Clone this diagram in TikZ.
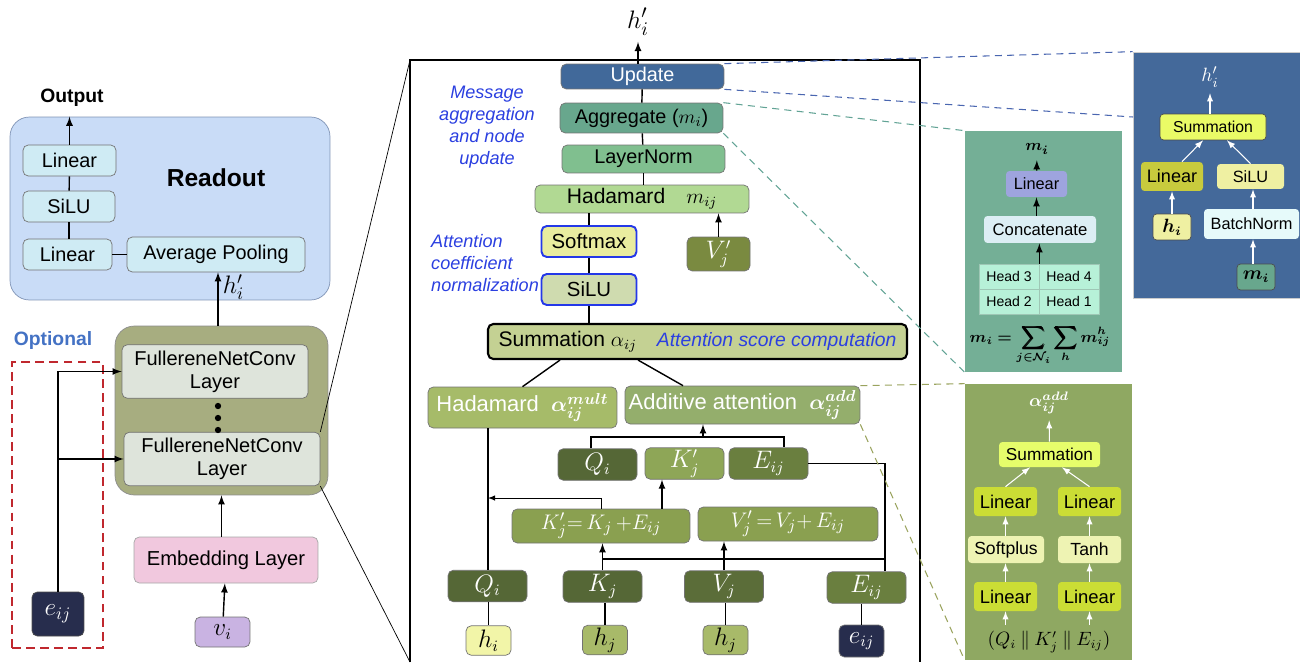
\documentclass[tikz,border=0pt]{standalone}
\usepackage{amsmath,bm}
\usepackage{fontspec}
\setmainfont{Liberation Sans}

\definecolor{readBg}{HTML}{C9DCF7}
\definecolor{readLine}{HTML}{7F93B5}
\definecolor{readBox}{HTML}{CFEBF4}
\definecolor{convBg}{HTML}{A7AD80}
\definecolor{convLay}{HTML}{DEE4DB}
\definecolor{embedC}{HTML}{F1C8DE}
\definecolor{viC}{HTML}{C9B3E2}
\definecolor{eijC}{HTML}{272D4D}
\definecolor{updC}{HTML}{41699A}
\definecolor{aggC}{HTML}{68A78D}
\definecolor{normC}{HTML}{80BF8F}
\definecolor{hadC}{HTML}{B1D993}
\definecolor{softC}{HTML}{E9EC9F}
\definecolor{siluC}{HTML}{CFDBAF}
\definecolor{vjpC}{HTML}{7A8A40}
\definecolor{sumC}{HTML}{C4D193}
\definecolor{multC}{HTML}{A6BB69}
\definecolor{addC}{HTML}{94AE6C}
\definecolor{qC}{HTML}{556736}
\definecolor{kpC}{HTML}{8EA657}
\definecolor{eC}{HTML}{6A7F3F}
\definecolor{eqC}{HTML}{8AA050}
\definecolor{hiC}{HTML}{F2F5A8}
\definecolor{hjC}{HTML}{A8BA69}
\definecolor{aggPan}{HTML}{74AF96}
\definecolor{aggLin}{HTML}{9EA4DE}
\definecolor{catC}{HTML}{DCEEF4}
\definecolor{headC}{HTML}{B7F1D8}
\definecolor{updPan}{HTML}{44699A}
\definecolor{usumC}{HTML}{EAFB66}
\definecolor{ulinC}{HTML}{C8CB3D}
\definecolor{usiluC}{HTML}{EFF0A2}
\definecolor{bnC}{HTML}{E6FAFA}
\definecolor{addPan}{HTML}{8FA862}
\definecolor{asumC}{HTML}{E6FD6B}
\definecolor{alinC}{HTML}{CBDD35}
\definecolor{asoftC}{HTML}{EEF3B3}
\definecolor{noteBlue}{HTML}{2B3FE0}
\definecolor{normBlue}{HTML}{2438E8}
\definecolor{optBlue}{HTML}{4472C4}
\definecolor{optRed}{HTML}{C0282E}
\definecolor{updDash}{HTML}{4A66B0}
\definecolor{aggDash}{HTML}{62A395}
\definecolor{addDash}{HTML}{9AA35E}

\begin{document}
\begin{tikzpicture}[x=0.02cm, y=-0.02cm,
        box/.style={rectangle, rounded corners=3pt, draw=black!55, inner sep=0pt, align=center},
        readbox/.style={box, fill=readBox, font=\fontsize{11.3}{13}\selectfont, minimum height=0.62cm},
        layerbox/.style={box, fill=convLay, font=\fontsize{11.4}{13}\selectfont, minimum height=1.07cm},
        midbox/.style={box, font=\fontsize{11.3}{13}\selectfont},
        varbox/.style={box, text=white, font=\fontsize{13.5}{15}\selectfont, minimum width=1.58cm, minimum height=0.63cm},
        inbox/.style={box, font=\fontsize{13.5}{15}\selectfont, minimum width=0.9cm, minimum height=0.59cm},
        normbox/.style={midbox, draw=normBlue, line width=1.1pt, font=\fontsize{11.6}{13}\selectfont, minimum width=1.9cm, minimum height=0.62cm},
        note/.style={text=noteBlue, font=\fontsize{10.3}{12.6}\selectfont\itshape, align=center},
        panelbox/.style={rectangle, rounded corners=2pt, inner sep=0pt, font=\fontsize{9.3}{11}\selectfont},
        panel/.style={rectangle, inner sep=0pt},
        warrow/.style={-latex, white, semithick},
        zoomdash/.style={dashed, dash pattern=on 4pt off 3pt, semithick},
    ]
        \useasboundingbox (0,0) rectangle (1300,662);

        %Readout
        \node[panel, fill=readBg, draw=readLine, rounded corners=11pt, minimum width=6.4cm, minimum height=3.66cm] (readout) at (170,208.5) {};
        \node[font=\fontsize{14}{16}\selectfont\bfseries] (readTitle) at (216,178) {Readout};
        \node[font=\fontsize{11}{13}\selectfont\bfseries] (output) at (72,98) {Output};
        \node[readbox, minimum width=1.86cm] (linTop) at (69.5,160.5) {Linear};
        \node[readbox, minimum width=1.84cm] (siluRead) at (69,206.5) {SiLU};
        \node[readbox, minimum width=1.78cm] (linBot) at (67.5,254.5) {Linear};
        \node[readbox, minimum width=3.56cm, minimum height=0.7cm] (avgPool) at (216,254.5) {Average Pooling};

        %Convolution stack
        \node[panel, fill=convBg, draw=black!45, rounded corners=11pt, minimum width=4.26cm, minimum height=3.38cm] (convBox) at (221.5,410.5) {};
        \node[layerbox, minimum width=3.72cm] (conv1) at (215,371.5) {FullereneNetConv\\Layer};
        \node[layerbox, minimum width=3.92cm] (conv2) at (222,459) {FullereneNetConv\\Layer};
        \foreach \y in {406,418,430} \fill (218,\y) circle (1.8pt);
        \node[box, fill=embedC, draw=black!35, font=\fontsize{11.5}{13}\selectfont, minimum width=3.68cm, minimum height=0.92cm] (embed) at (226,560) {Embedding Layer};
        \node[box, fill=viC, font=\fontsize{13.5}{15}\selectfont, minimum width=1.1cm, minimum height=0.6cm] (vi) at (222.5,632) {$v_i$};

        %Optional edge input
        \node[text=optBlue, font=\fontsize{11}{13}\selectfont\bfseries] (optional) at (53,341) {Optional};
        \node[panel, draw=optRed, thick, dashed, dash pattern=on 5pt off 3pt, minimum width=1.82cm, minimum height=5.72cm] (optBox) at (57.5,505) {};
        \node[box, fill=eijC, text=white, draw=black!70, font=\fontsize{14}{16}\selectfont, minimum width=1.04cm, minimum height=0.88cm] (eijOpt) at (58,614) {$e_{ij}$};

        %Zoom frame
        \coordinate (zoomTL) at (410,60);
        \coordinate (zoomTR) at (920,60);
        \coordinate (zoomBL) at (410,662);
        \coordinate (zoomBR) at (920,662);
        \draw[semithick] (zoomBL) -- (zoomTL) -- (zoomTR) -- (zoomBR);
        \draw (conv2.north east) -- (zoomTL);
        \draw (conv2.south east) -- (zoomBL);

        %Message passing layer
        \node[font=\fontsize{15}{17}\selectfont] (hOut) at (638,22) {$h_i'$};
        \node[midbox, fill=updC, text=white, minimum width=3.26cm, minimum height=0.5cm] (update) at (642.5,76.5) {Update};
        \node[midbox, fill=aggC, minimum width=3.26cm, minimum height=0.6cm] (aggregate) at (641.5,118) {Aggregate ($m_i$)};
        \node[midbox, fill=normC, minimum width=3.26cm, minimum height=0.56cm] (layerNorm) at (643.5,159) {LayerNorm};
        \node[midbox, fill=hadC, font=\fontsize{12}{14}\selectfont, minimum width=4.28cm, minimum height=0.56cm] (hadM) at (642,199) {Hadamard\quad$m_{ij}$};
        \node[normbox, fill=softC] (softmax) at (589,241.5) {Softmax};
        \node[normbox, fill=siluC] (siluAtt) at (589,289.5) {SiLU};
        \node[varbox, fill=vjpC, minimum width=1.26cm, minimum height=0.68cm] (vjPrime) at (718.5,254) {$V_j'$};
        \node[note] (noteMsg) at (487,127) {Message\\aggregation\\and node\\update};
        \node[note, align=left, anchor=west] (noteAtt) at (425,263) {Attention\\coefficient\\normalization};

        \node[box, fill=sumC, draw=black, line width=1.2pt, font=\fontsize{12}{14}\selectfont, minimum width=8.38cm, minimum height=0.7cm] (summation) at (697.5,341.5) {Summation~$\alpha_{ij}$\hspace{0.4cm}{\color{noteBlue}\fontsize{11}{13}\selectfont\itshape Attention score computation}};
        \node[box, fill=multC, text=white, font=\fontsize{12.5}{14}\selectfont, minimum width=3.78cm, minimum height=0.82cm] (hadMult) at (522.5,407.5) {Hadamard\;\;$\bm{\alpha^{mult}_{ij}}$};
        \node[box, fill=addC, text=white, font=\fontsize{12.5}{14}\selectfont, minimum width=4.7cm, minimum height=0.76cm] (additive) at (742.5,405) {Additive attention\;\;$\bm{\alpha^{add}_{ij}}$};

        \node[varbox, fill=qC] (qiTop) at (597.5,464.5) {$Q_i$};
        \node[varbox, fill=kpC] (kjTop) at (684.5,463.5) {$K_j'$};
        \node[varbox, fill=eC] (eijTop) at (768.5,463.5) {$E_{ij}$};
        \node[varbox, fill=eqC, font=\fontsize{13}{15}\selectfont, minimum width=3.56cm, minimum height=0.68cm] (kEq) at (601,526) {$K_j'{=}\,K_j\,{+}E_{ij}$};
        \node[varbox, fill=eqC, font=\fontsize{13}{15}\selectfont, minimum width=3.6cm, minimum height=0.68cm] (vEq) at (788,524) {$V_j'\,{=}\,V_j{+}\,E_{ij}$};

        \node[varbox, fill=qC] (qiBot) at (487.5,586) {$Q_i$};
        \node[varbox, fill=qC] (kjBot) at (602.5,586.5) {$K_j$};
        \node[varbox, fill=qC!90!kpC] (vjBot) at (724,586.5) {$V_j$};
        \node[varbox, fill=eC] (eijBot) at (866.5,587.5) {$E_{ij}$};
        \node[inbox, fill=hiC] (hiIn) at (488.5,640.5) {$h_i$};
        \node[inbox, fill=hjC] (hjInA) at (605,640) {$h_j$};
        \node[inbox, fill=hjC] (hjInB) at (725.5,640) {$h_j$};
        \node[inbox, fill=eijC, text=white, minimum height=0.64cm] (eijIn) at (861.5,641) {$e_{ij}$};

        %Aggregate detail
        \node[panel, fill=aggPan, minimum width=3.14cm, minimum height=4.82cm] (aggPanel) at (1043.5,251.5) {};
        \node[font=\fontsize{9.5}{11}\selectfont] (aggOut) at (1037,149) {$\bm{m_i}$};
        \node[panelbox, fill=aggLin, minimum width=1.22cm, minimum height=0.52cm] (aggLinear) at (1036.5,184) {Linear};
        \node[panelbox, fill=catC, font=\fontsize{9.5}{11}\selectfont, minimum width=2.24cm, minimum height=0.54cm] (concat) at (1040,229.5) {Concatenate};
        \node[panel, fill=headC, draw=aggPan!70!white, font=\fontsize{8}{10}\selectfont, minimum width=1.2cm, minimum height=0.5cm] (head3) at (1009,276.5) {Head 3};
        \node[panel, fill=headC, draw=aggPan!70!white, font=\fontsize{8}{10}\selectfont, minimum width=1.2cm, minimum height=0.5cm] (head4) at (1069,276.5) {Head 4};
        \node[panel, fill=headC, draw=aggPan!70!white, font=\fontsize{8}{10}\selectfont, minimum width=1.2cm, minimum height=0.5cm] (head2) at (1009,301.5) {Head 2};
        \node[panel, fill=headC, draw=aggPan!70!white, font=\fontsize{8}{10}\selectfont, minimum width=1.2cm, minimum height=0.5cm] (head1) at (1069,301.5) {Head 1};
        \node[font=\fontsize{9}{11}\selectfont] (aggSum) at (1040,345) {$\displaystyle\bm{m_i=\sum_{j\in\mathcal{N}_i}\sum_{h} m_{ij}^{h}}$};

        %Update detail
        \node[panel, fill=updPan, draw=black!20, minimum width=3.34cm, minimum height=4.92cm] (updPanel) at (1216.5,175) {};
        \node[text=white, font=\fontsize{11}{13}\selectfont] (updOut) at (1210,77) {$h_i'$};
        \node[panelbox, fill=usumC, draw=black!70, font=\fontsize{9}{11}\selectfont, minimum width=2.12cm, minimum height=0.52cm] (uSum) at (1213,127) {Summation};
        \node[panelbox, fill=ulinC, font=\fontsize{10.3}{12}\selectfont, minimum width=1.24cm, minimum height=0.58cm] (uLinear) at (1172,176.5) {Linear};
        \node[panelbox, fill=usiluC, minimum width=1.34cm, minimum height=0.5cm] (uSilu) at (1250.5,176.5) {SiLU};
        \node[panelbox, fill=usiluC, draw=black!70, font=\fontsize{10.5}{12}\selectfont, minimum width=0.76cm, minimum height=0.52cm] (uHi) at (1172,227) {$\bm{h_i}$};
        \node[panelbox, fill=bnC, minimum width=1.9cm, minimum height=0.6cm] (uBatch) at (1251.5,224) {BatchNorm};
        \node[panelbox, fill=aggC, draw=black!70, font=\fontsize{10.5}{12}\selectfont, minimum width=0.76cm, minimum height=0.52cm] (uMi) at (1256,277) {$\bm{m_i}$};

        %Additive attention detail
        \node[panel, fill=addPan, minimum width=3.34cm, minimum height=5.52cm] (addPanel) at (1048.5,522) {};
        \node[text=white, font=\fontsize{10}{12}\selectfont] (addOut) at (1049,403) {$\bm{\alpha^{add}_{ij}}$};
        \node[panelbox, fill=asumC, font=\fontsize{9.8}{11}\selectfont, minimum width=2.02cm, minimum height=0.5cm] (aSum) at (1049.5,454.5) {Summation};
        \node[panelbox, fill=alinC, font=\fontsize{10.5}{12}\selectfont, minimum width=1.26cm, minimum height=0.58cm] (aLinL) at (1005.5,501.5) {Linear};
        \node[panelbox, fill=alinC, font=\fontsize{10.5}{12}\selectfont, minimum width=1.26cm, minimum height=0.58cm] (aLinR) at (1089.5,501.5) {Linear};
        \node[panelbox, fill=asoftC, font=\fontsize{10}{12}\selectfont, minimum width=1.52cm, minimum height=0.54cm] (aSoftplus) at (1006,549.5) {Softplus};
        \node[panelbox, fill=asoftC, font=\fontsize{10}{12}\selectfont, minimum width=1.26cm, minimum height=0.54cm] (aTanh) at (1089.5,549.5) {Tanh};
        \node[panelbox, fill=alinC, font=\fontsize{10.5}{12}\selectfont, minimum width=1.26cm, minimum height=0.58cm] (aLinL2) at (1005.5,596.5) {Linear};
        \node[panelbox, fill=alinC, font=\fontsize{10.5}{12}\selectfont, minimum width=1.26cm, minimum height=0.58cm] (aLinR2) at (1089.5,596.5) {Linear};
        \node[font=\fontsize{10.5}{12}\selectfont] (aIn) at (1049,642) {$(Q_i\mathbin{\|}K_j'\mathbin{\|}E_{ij})$};

        %Lines
        \draw[-latex, thick] (linTop.north) -- (linTop.north |- readout.north);
        \draw[thick] (linTop) -- (siluRead);
        \draw[thick] (siluRead.south) -- (siluRead.south |- linBot.north);
        \draw[thick] (linBot) -- (avgPool);
        \draw[-latex, thick] (convBox.north -| 218,0) -- (avgPool.south -| 218,0) node[pos=0.72, right=-1pt, font=\fontsize{14}{16}\selectfont] {$h_i'$};
        \draw[-latex, thick] (embed.north -| convBox.south) -- (convBox.south);
        \draw[-latex, thick] (vi) -- (embed);
        \draw[-latex, thick] (eijOpt.north) |- (conv1.west);
        \draw[-latex, thick] (eijOpt.north |- conv2.west) -- (conv2.west);

        \draw[-latex, thick] (update.north -| hOut) -- (hOut.south);
        \draw[thick] (aggregate) -- (update);
        \draw[thick] (layerNorm) -- (aggregate);
        \draw[thick] (layerNorm.south) -- (layerNorm.south |- hadM.north);
        \draw[thick] (softmax.north) -- (softmax.north |- hadM.south);
        \draw[thick] (siluAtt) -- (softmax);
        \draw[thick] (siluAtt.south) -- (siluAtt.south |- summation.north);
        \draw[-latex, thick] (vjPrime) -- (vjPrime |- hadM.south);
        \draw[thick] ([xshift=-2.75cm]summation.south) -- (hadMult.north);
        \draw[thick] ([xshift=-1.19cm]summation.south) -- ([xshift=-1.19cm]additive.north);

        \coordinate (brL) at (591,437);
        \coordinate (brM) at (703,437);
        \coordinate (brR) at (784,437);
        \draw[thick] (brL |- qiTop.north) -- (brL) -- (brR) -- (brR |- eijTop.north);
        \draw[-latex, thick] (brM) -- (brM |- additive.south);
        \coordinate (kUp) at (662,0);
        \draw[-latex, thick] (kEq.north -| kUp) -- (kjTop.south -| kUp);
        \coordinate (kLeft) at (488,498);
        \draw[-latex] (kEq.north) |- (kLeft);
        \draw[thick] (qiBot.north -| kLeft) -- (hadMult.south -| kLeft);
        \draw[thick] (hiIn) -- (hiIn |- qiBot.south);

        \coordinate (eCol) at (885,0);
        \coordinate (eRow) at (0,559);
        \draw[thick] (eijTop.east) -| (eCol |- eijBot.north);
        \draw[thick] (kjBot.north |- eRow) -- (eCol |- eRow);
        \draw[-latex, thick] (kjBot.north) -- (kjBot.north |- kEq.south);
        \draw[-latex, thick] (vjBot.north) -- (vjBot.north |- vEq.south);
        \draw[thick] (hjInA) -- (hjInA |- kjBot.south);
        \draw[thick] (hjInB) -- (hjInB |- vjBot.south);
        \draw[thick] (eijIn) -- (eijIn |- eijBot.south);

        \draw[-latex, thick] (head3.north east) -- (concat.south -| head3.north east);
        \draw[-latex, thick] (concat.north -| aggLinear) -- (aggLinear.south);
        \draw[-latex, thick] (aggLinear) -- (aggOut);

        \draw[warrow] (uMi.north -| 1253,0) -- (uBatch.south -| 1253,0);
        \draw[warrow] (uBatch.north -| 1253,0) -- (uSilu.south -| 1253,0);
        \draw[warrow] (uHi) -- (uLinear);
        \draw[warrow] ([xshift=0.2cm]uLinear.north) -- ([xshift=-0.2cm]uSum.south);
        \draw[warrow] (uSilu.north) -- ([xshift=0.28cm]uSum.south);
        \draw[warrow] (uSum.north -| updOut) -- (updOut);

        \draw[warrow] (aIn.north -| aLinL2) -- (aLinL2);
        \draw[warrow] (aIn.north -| aLinR2) -- (aLinR2);
        \draw[warrow] (aLinL2) -- (aSoftplus.south -| aLinL2);
        \draw[warrow] (aLinR2) -- (aTanh);
        \draw[warrow] (aSoftplus.north -| aLinL) -- (aLinL);
        \draw[warrow] (aTanh) -- (aLinR);
        \draw[warrow] (aLinL.north) -- ([xshift=-0.39cm]aSum.south);
        \draw[warrow] (aLinR.north) -- ([xshift=0.25cm]aSum.south);
        \draw[warrow] (aSum) -- (addOut);

        %Zoom lines
        \draw[zoomdash, updDash] (update.north east) -- (updPanel.north west);
        \draw[zoomdash, updDash] (update.south east) -- (1133,117);
        \draw[zoomdash, aggDash] (aggregate.north east) -- (aggPanel.north west);
        \draw[zoomdash, aggDash] (aggregate.south east) -- (aggPanel.south west);
        \draw[zoomdash, addDash] (additive.north east) -- (addPanel.north west);
        \draw[zoomdash, addDash] (additive.south east) -- (addPanel.south west);
    \end{tikzpicture}
\end{document}
